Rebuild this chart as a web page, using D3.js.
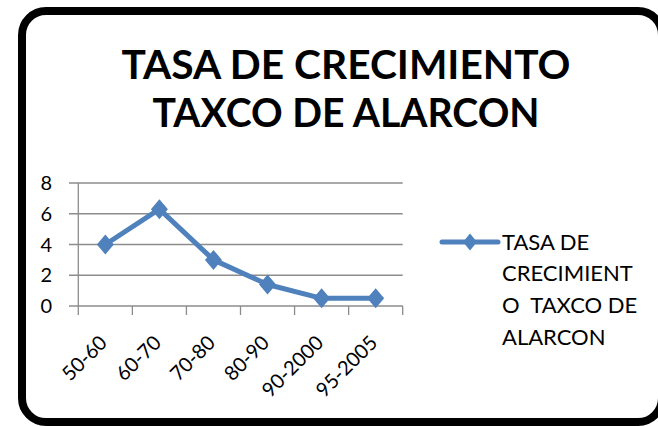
<!DOCTYPE html>
<html>
<head>
<meta charset="utf-8">
<script src="https://cdn.jsdelivr.net/npm/d3@7"></script>
<style>
  body { margin: 0; background: #fff; }
  svg { display: block; font-family: Lato, "Open Sans", sans-serif; }
  text { white-space: pre; }
</style>
</head>
<body>
<svg width="658" height="426" viewBox="0 0 658 426"></svg>
<script>
const categories = ["50-60", "60-70", "70-80", "80-90", "90-2000", "95-2005"];
const values = [4, 6.3, 3, 1.4, 0.5, 0.5];
const yTicks = [0, 2, 4, 6, 8];
const titleLines = ["TASA DE CRECIMIENTO", "TAXCO DE ALARCON"];
const legendLines = ["TASA DE", "CRECIMIENT", "O  TAXCO DE", "ALARCON"];

const svg = d3.select("svg");
const blue = "#4f81bd";
const grid = "#8c8c8c";

// outer frame, right side runs slightly off the picture
svg.append("rect")
    .attr("x", 22).attr("y", 11)
    .attr("width", 640).attr("height", 411)
    .attr("rx", 24).attr("ry", 24)
    .attr("fill", "#fff")
    .attr("stroke", "#000")
    .attr("stroke-width", 8);

// title
const titleWidths = [449, 387];
svg.append("g").selectAll("text")
    .data(titleLines)
    .enter()
    .append("text")
    .attr("x", 346)
    .attr("y", (d, i) => i === 0 ? 79 : 127)
    .attr("text-anchor", "middle")
    .attr("font-size", 40)
    .attr("font-weight", "bold")
    .attr("textLength", (d, i) => titleWidths[i])
    .attr("lengthAdjust", "spacingAndGlyphs")
    .text(d => d);

const x = d3.scaleBand().domain(categories).range([78.3, 402.7]).padding(0);
const y = d3.scaleLinear().domain([0, 8]).range([306, 183]);

const plot = svg.append("g");

// gridlines + y tick marks
plot.append("g").selectAll("line")
    .data(yTicks)
    .enter()
    .append("line")
    .attr("x1", 69).attr("x2", x.range()[1])
    .attr("y1", d => y(d)).attr("y2", d => y(d))
    .attr("stroke", grid)
    .attr("stroke-width", 1.3);

// y axis line
plot.append("line")
    .attr("x1", x.range()[0]).attr("x2", x.range()[0])
    .attr("y1", y(0)).attr("y2", y(8))
    .attr("stroke", grid)
    .attr("stroke-width", 1.3);

// x tick marks at category boundaries
const bounds = categories.map(c => x(c)).concat([x.range()[1]]);
plot.append("g").selectAll("line")
    .data(bounds)
    .enter()
    .append("line")
    .attr("x1", d => d).attr("x2", d => d)
    .attr("y1", y(0)).attr("y2", y(0) + 9)
    .attr("stroke", grid)
    .attr("stroke-width", 1.3);

// y labels
plot.append("g").selectAll("text")
    .data(yTicks)
    .enter()
    .append("text")
    .attr("x", 52)
    .attr("y", d => y(d))
    .attr("dy", "0.36em")
    .attr("text-anchor", "end")
    .attr("font-size", 20)
    .text(d => d);

// x labels, rotated
plot.append("g").selectAll("text")
    .data(categories)
    .enter()
    .append("text")
    .attr("transform", d => `translate(${x(d) + x.bandwidth() / 2 + 3},344) rotate(-45)`)
    .attr("text-anchor", "end")
    .attr("font-size", 20)
    .text(d => d);

// series line
const cx = (d, i) => x(categories[i]) + x.bandwidth() / 2;
const line = d3.line()
    .x(cx)
    .y(d => y(d));

plot.append("path")
    .datum(values)
    .attr("d", line)
    .attr("fill", "none")
    .attr("stroke", blue)
    .attr("stroke-width", 5)
    .attr("stroke-linejoin", "round");

const diamond = (w, h) => `M0,${-h}L${w},0L0,${h}L${-w},0Z`;

plot.append("g").selectAll("path")
    .data(values)
    .enter()
    .append("path")
    .attr("transform", (d, i) => `translate(${cx(d, i)},${y(d)})`)
    .attr("d", diamond(8.5, 10))
    .attr("fill", blue);

// legend
const legend = svg.append("g");
legend.append("line")
    .attr("x1", 442).attr("x2", 498)
    .attr("y1", 242).attr("y2", 242)
    .attr("stroke", blue)
    .attr("stroke-width", 5)
    .attr("stroke-linecap", "round");
legend.append("path")
    .attr("transform", "translate(470,242)")
    .attr("d", diamond(7, 8.5))
    .attr("fill", blue);

legend.selectAll("text")
    .data(legendLines)
    .enter()
    .append("text")
    .attr("x", 502)
    .attr("y", (d, i) => 249.5 + i * 31.8)
    .attr("font-size", 22)
    .text(d => d);
</script>
</body>
</html>
